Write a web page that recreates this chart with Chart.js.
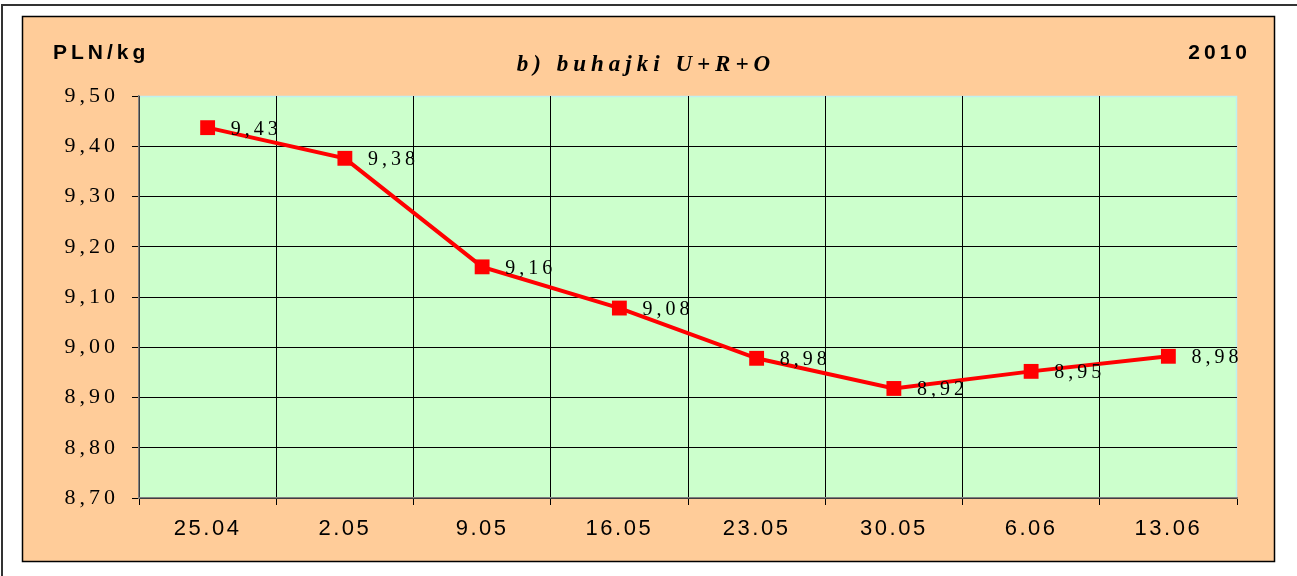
<!DOCTYPE html>
<html>
<head>
<meta charset="utf-8">
<script src="https://cdn.jsdelivr.net/npm/chart.js@4"></script>
<style>
  body { margin: 0; background: #fff; }
  canvas { display: block; }
</style>
</head>
<body>
<canvas id="priceChart" width="1297" height="576"></canvas>
<script>
// data
const weeks = ['25.04', '2.05', '9.05', '16.05', '23.05', '30.05', '6.06', '13.06'];
const prices = [9.437, 9.376, 9.16, 9.078, 8.978, 8.918, 8.952, 8.982];
const priceLabels = ['9,43', '9,38', '9,16', '9,08', '8,98', '8,92', '8,95', '8,98'];
const yMin = 8.70;
const yMax = 9.50;
const yStep = 0.10;

const chartTitle = 'b) buhajki U+R+O';
const unitText = 'PLN/kg';
const yearText = '2010';

// letter spacing per axis (the original is a spaced-out Excel export)
const labelSpacing = { x: '2.5px', y: '4px' };

// frame, backgrounds and headings
const framePlugin = {
    id: 'frame',
    beforeLayout(chart) {
        chart.ctx.letterSpacing = '4px';
    },
    afterLayout(chart) {
        Object.values(chart.scales).forEach(scale => {
            if (scale._spaced) return;
            const orig = scale.drawLabels;
            scale.drawLabels = function(area) {
                const c = this.ctx;
                c.save();
                c.letterSpacing = labelSpacing[this.axis] || '0px';
                orig.call(this, area);
                c.restore();
            };
            scale._spaced = true;
        });
    },
    beforeDraw(chart) {
        const ctx = chart.ctx;
        const area = chart.chartArea;
        ctx.save();
        ctx.letterSpacing = '0px';
        ctx.fillStyle = '#fff';
        ctx.fillRect(0, 0, chart.width, chart.height);

        // outer page frame (top and left only are visible)
        ctx.strokeStyle = '#333';
        ctx.lineWidth = 2;
        ctx.beginPath();
        ctx.moveTo(chart.width, 5);
        ctx.lineTo(2, 5);
        ctx.lineTo(2, chart.height);
        ctx.stroke();

        // orange chart box
        ctx.fillStyle = '#FFCC99';
        ctx.fillRect(22, 16, 1253, 546);
        ctx.strokeStyle = '#000';
        ctx.lineWidth = 1.5;
        ctx.strokeRect(22.5, 16.5, 1252, 545);

        // plot area
        ctx.fillStyle = '#CCFFCC';
        ctx.fillRect(area.left, area.top, area.right - area.left, area.bottom - area.top);
        ctx.strokeStyle = '#BFF0F0';
        ctx.lineWidth = 1.5;
        ctx.beginPath();
        ctx.moveTo(area.left, area.top + 0.5);
        ctx.lineTo(area.right - 0.5, area.top + 0.5);
        ctx.lineTo(area.right - 0.5, area.bottom);
        ctx.stroke();

        // headings
        ctx.fillStyle = '#000';
        ctx.textBaseline = 'alphabetic';
        ctx.font = 'bold 21px "Liberation Sans", Arial, sans-serif';
        ctx.letterSpacing = '4px';
        ctx.textAlign = 'left';
        ctx.fillText(unitText, 53, 59);
        ctx.textAlign = 'right';
        ctx.fillText(yearText, 1251, 59);

        ctx.font = 'italic bold 23px "Liberation Serif", "Times New Roman", serif';
        ctx.letterSpacing = '5px';
        ctx.textAlign = 'center';
        ctx.fillText(chartTitle, 646, 71);
        ctx.restore();
    }
};

// value labels next to each marker
const valueLabelPlugin = {
    id: 'valueLabels',
    afterDatasetsDraw(chart) {
        const ctx = chart.ctx;
        const meta = chart.getDatasetMeta(0);
        ctx.save();
        ctx.font = '20px "Liberation Serif", "Times New Roman", serif';
        ctx.letterSpacing = '4px';
        ctx.fillStyle = '#000';
        ctx.textAlign = 'left';
        ctx.textBaseline = 'alphabetic';
        meta.data.forEach((pt, i) => {
            ctx.fillText(priceLabels[i], pt.x + 23, pt.y + 7);
        });
        ctx.restore();
    }
};

const ctx = document.getElementById('priceChart');
new Chart(ctx, {
    type: 'line',
    data: {
        labels: weeks,
        datasets: [{
            data: prices,
            borderColor: '#FF0000',
            backgroundColor: '#FF0000',
            borderWidth: 4,
            pointStyle: 'rect',
            pointRadius: 10.5,
            pointBorderWidth: 0,
            tension: 0,
            clip: false
        }]
    },
    options: {
        responsive: false,
        animation: false,
        events: [],
        layout: {
            padding: { left: 0, top: 96, right: 60, bottom: 0 }
        },
        plugins: {
            legend: { display: false },
            tooltip: { enabled: false },
            title: { display: false }
        },
        scales: {
            x: {
                offset: true,
                afterFit(scale) { scale.height = 78; },
                grid: {
                    offset: true,
                    color: c => c.type === 'tick' ? '#000' : 'rgba(0,0,0,0)',
                    tickColor: '#000',
                    tickLength: 7,
                    lineWidth: 1
                },
                border: { color: '#808080', width: 1.5 },
                ticks: {
                    color: '#000',
                    padding: 11,
                    maxRotation: 0,
                    autoSkip: false,
                    font: { family: '"Liberation Sans", Arial, sans-serif', size: 22 }
                }
            },
            y: {
                min: yMin,
                max: yMax,
                afterFit(scale) { scale.width = 139; },
                grid: {
                    color: c => (c.tick && c.tick.value > yMax - yStep / 2) ? 'rgba(0,0,0,0)' : '#000',
                    tickColor: '#000',
                    tickLength: 7,
                    lineWidth: 1
                },
                border: { color: '#808080', width: 1.5 },
                ticks: {
                    stepSize: yStep,
                    color: '#000',
                    padding: 13,
                    font: { family: '"Liberation Serif", "Times New Roman", serif', size: 22 },
                    callback: v => v.toFixed(2).replace('.', ',')
                }
            }
        }
    },
    plugins: [framePlugin, valueLabelPlugin]
});
</script>
</body>
</html>
